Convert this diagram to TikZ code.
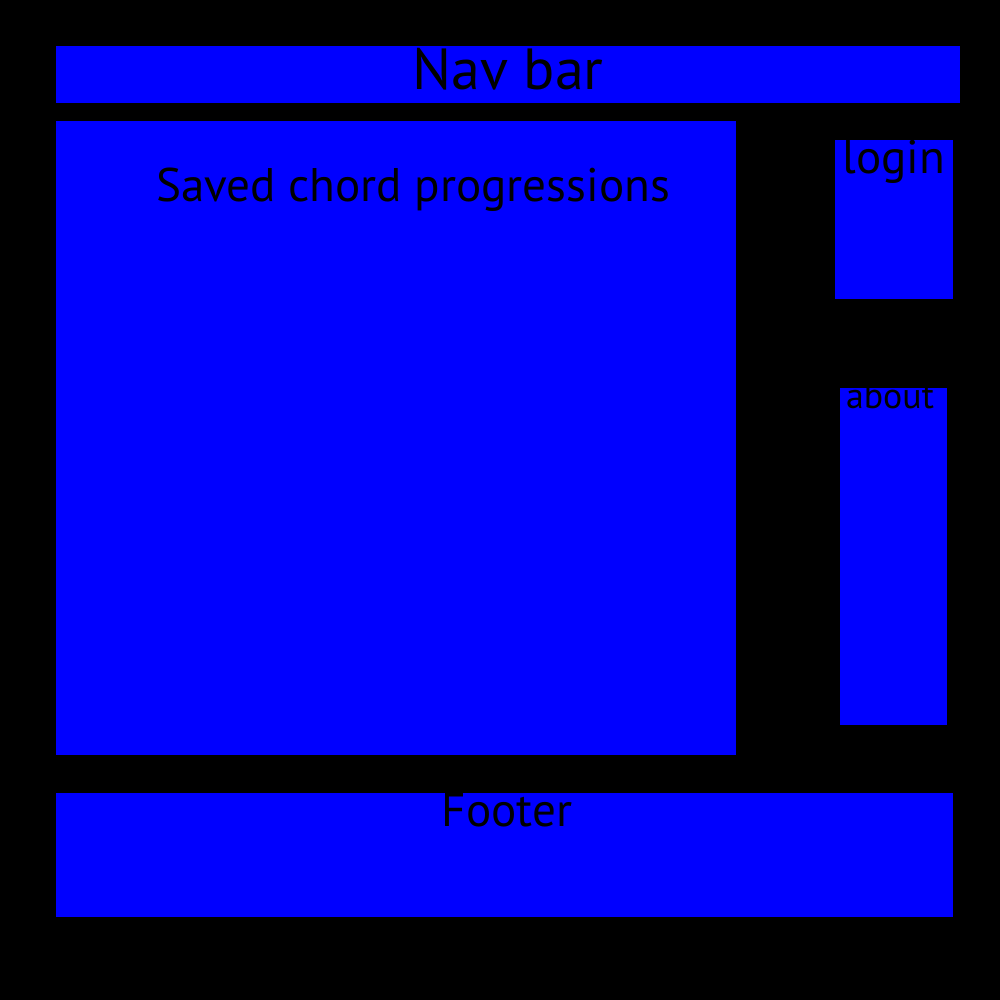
\documentclass[tikz,border=0pt]{standalone}
\usepackage{fontspec}
\setmainfont{PT Sans}
\begin{document}
\begin{tikzpicture}[x=0.01cm,y=-0.01cm,
  panel/.style={fill={rgb,255:red,0;green,0;blue,255},draw=none},
  lbl/.style={text=black,inner sep=0pt,anchor=base}]
\fill[black] (0,0) rectangle (1000,1000);
\useasboundingbox (0,0) rectangle (1000,1000);
\fill[panel] (56,46) rectangle (960,103);
\fill[panel] (56,121) rectangle (736,755);
\fill[panel] (835,140) rectangle (953,299);
\fill[panel] (840,388) rectangle (947,725);
\fill[panel] (56,793) rectangle (953,917);
\node[lbl,font=\fontsize{16.5}{18}\selectfont] (nav) at (508,89) {Nav bar};
\node[lbl,font=\fontsize{13.4}{16}\selectfont] (saved) at (413,201) {Saved chord progressions};
\node[lbl,font=\fontsize{13.4}{16}\selectfont] (login) at (894,173) {login};
\node[lbl,font=\fontsize{10.2}{12}\selectfont] (about) at (890,408) {about};
\node[lbl,font=\fontsize{13.4}{16}\selectfont] (footer) at (507,826) {Footer};
\end{tikzpicture}
\end{document}
